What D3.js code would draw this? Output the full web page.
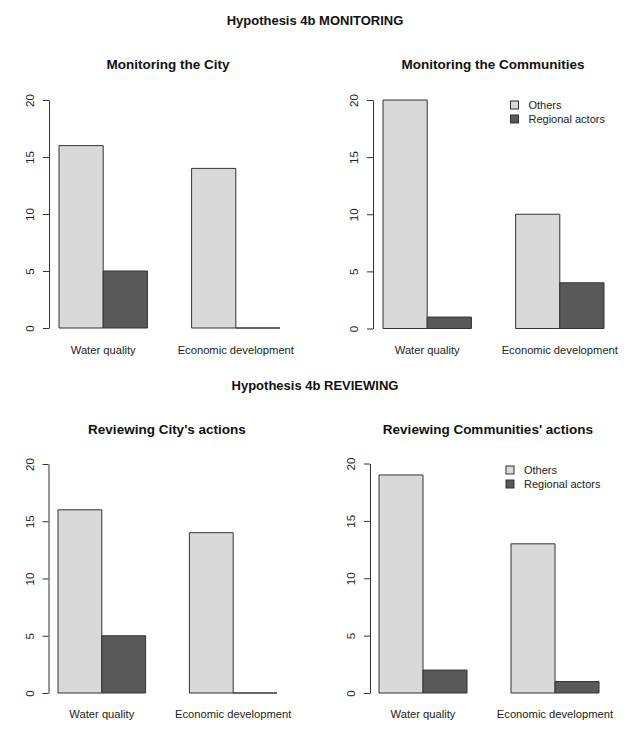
<!DOCTYPE html>
<html>
<head>
<meta charset="utf-8">
<script src="https://cdn.jsdelivr.net/npm/d3@7"></script>
<style>
  body { margin: 0; background: #fff; }
  svg { display: block; font-family: "Liberation Sans", Arial, sans-serif; }
</style>
</head>
<body>
<div class="chart"></div>
<script>
var w = 640, h = 737;

// data
var categories = ["Water quality", "Economic development"];
var series = ["Others", "Regional actors"];
var monitoringCity = [[16, 5], [14, 0]];
var monitoringCommunities = [[20, 1], [10, 4]];
var reviewingCity = [[16, 5], [14, 0]];
var reviewingCommunities = [[19, 2], [13, 1]];
var yTicks = [0, 5, 10, 15, 20];
var mainTitles = ["Hypothesis 4b MONITORING", "Hypothesis 4b REVIEWING"];

var colors = ["#d9d9d9", "#595959"];

// panel layout (pixel placement only)
var panels = [
  { title: "Monitoring the City", values: monitoringCity, x0: 14.8, x6: 280, axisX: 49, y0: 328, y20: 100, titleX: 168, titleY: 64, labelY: 350, legend: false },
  { title: "Monitoring the Communities", values: monitoringCommunities, x0: 338.8, x6: 604, axisX: 373, y0: 328.5, y20: 100, titleX: 493, titleY: 64, labelY: 350, legend: { x: 510.5, y: 105 } },
  { title: "Reviewing City's actions", values: reviewingCity, x0: 14.2, x6: 277, axisX: 48.5, y0: 693, y20: 464, titleX: 167, titleY: 429, labelY: 714, legend: false },
  { title: "Reviewing Communities' actions", values: reviewingCommunities, x0: 335, x6: 599, axisX: 370, y0: 693, y20: 463.5, titleX: 488, titleY: 429, labelY: 714, legend: { x: 506, y: 470 } }
];

var svg = d3.select(".chart")
  .append("svg")
  .attr("width", w)
  .attr("height", h);

svg.selectAll("text.main")
  .data(mainTitles)
  .enter()
  .append("text")
  .attr("class", "main")
  .attr("x", 315)
  .attr("y", function(d, i) { return i === 0 ? 25 : 390; })
  .attr("text-anchor", "middle")
  .attr("font-size", "13px")
  .attr("font-weight", "bold")
  .attr("fill", "#111")
  .text(function(d) { return d; });

panels.forEach(function(p) {
  var g = svg.append("g");

  // R barplot: groups of 2 bars, one empty unit before each group
  var x = d3.scaleBand()
    .domain(categories)
    .range([p.x0, p.x6])
    .paddingInner(1 / 3)
    .paddingOuter(1 / 6)
    .align(1);
  var xs = d3.scaleBand()
    .domain(series)
    .range([0, x.bandwidth()]);
  var y = d3.scaleLinear()
    .domain([0, 20])
    .range([p.y0, p.y20]);

  g.append("text")
    .attr("x", p.titleX)
    .attr("y", p.titleY + 5)
    .attr("text-anchor", "middle")
    .attr("font-size", "13.5px")
    .attr("font-weight", "bold")
    .attr("fill", "#111")
    .text(p.title);

  var groups = g.selectAll("g.grp")
    .data(p.values)
    .enter()
    .append("g")
    .attr("transform", function(d, i) { return "translate(" + x(categories[i]) + ",0)"; });

  // bars as closed paths so a zero bar still shows its outline
  groups.selectAll("path")
    .data(function(d) { return d; })
    .enter()
    .append("path")
    .attr("d", function(d, i) {
      var bx = xs(series[i]), bw = xs.bandwidth();
      return "M" + bx + "," + y(0) + "V" + y(d) + "H" + (bx + bw) + "V" + y(0) + "Z";
    })
    .attr("fill", function(d, i) { return colors[i]; })
    .attr("stroke", "#333")
    .attr("stroke-width", 1);

  // y axis
  var axis = g.append("g")
    .attr("transform", "translate(" + p.axisX + ",0)")
    .call(d3.axisLeft(y).tickValues(yTicks).tickSize(6).tickSizeOuter(0));
  axis.select(".domain").attr("stroke", "#333");
  axis.selectAll(".tick line").attr("stroke", "#333");
  axis.selectAll(".tick text")
    .attr("transform", "rotate(-90)")
    .attr("x", 0)
    .attr("y", -15)
    .attr("dy", 0)
    .attr("text-anchor", "middle")
    .attr("font-size", "11.5px")
    .attr("font-family", "Liberation Sans, Arial, sans-serif")
    .attr("fill", "#222");

  // category labels
  g.selectAll("text.cat")
    .data(categories)
    .enter()
    .append("text")
    .attr("class", "cat")
    .attr("x", function(d) { return x(d) + x.bandwidth() / 2; })
    .attr("y", p.labelY + 4)
    .attr("text-anchor", "middle")
    .attr("font-size", "11.2px")
    .attr("fill", "#222")
    .text(function(d) { return d; });

  if (p.legend) {
    var lg = g.selectAll("g.leg")
      .data(series)
      .enter()
      .append("g")
      .attr("transform", function(d, i) { return "translate(" + p.legend.x + "," + (p.legend.y + i * 14) + ")"; });
    lg.append("rect")
      .attr("x", 0)
      .attr("y", -4)
      .attr("width", 8)
      .attr("height", 8)
      .attr("fill", function(d, i) { return colors[i]; })
      .attr("stroke", "#333");
    lg.append("text")
      .attr("x", 18)
      .attr("y", 4)
      .attr("font-size", "11px")
      .attr("fill", "#222")
      .text(function(d) { return d; });
  }
});
</script>
</body>
</html>
